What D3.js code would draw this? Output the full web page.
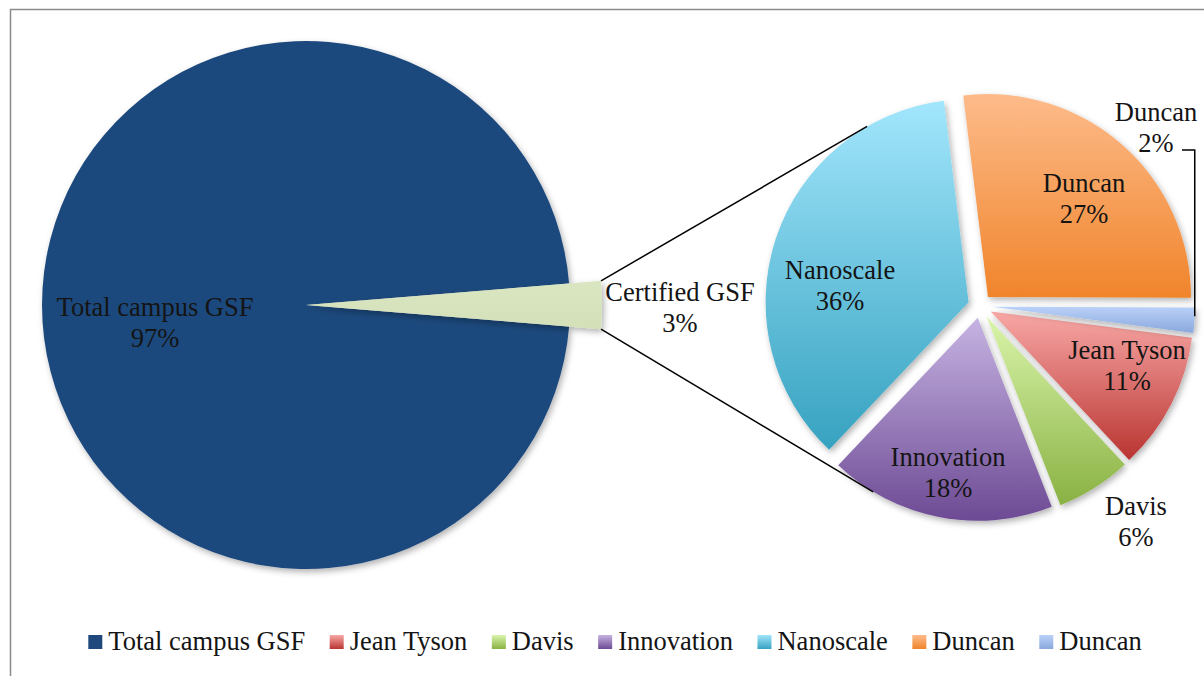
<!DOCTYPE html>
<html>
<head>
<meta charset="utf-8">
<script src="https://cdn.jsdelivr.net/npm/d3@7"></script>
<style>
  html, body { margin: 0; padding: 0; background: #fff; }
  svg text { font-family: "Liberation Serif", "Times New Roman", serif; fill: #141414; }
</style>
</head>
<body>
<svg id="chart" width="1204" height="676"></svg>
<script>
// first pie: campus total vs. certified
const mainNames = ["Total campus GSF", "Certified GSF"];
const mainValues = [97.4, 2.6];

// second pie: breakdown of certified GSF
const subNames = ["Jean Tyson", "Davis", "Innovation", "Nanoscale", "Duncan", "Duncan"];
const subValues = [11, 6, 18, 36, 27, 2];

const legendNames = ["Total campus GSF", "Jean Tyson", "Davis", "Innovation", "Nanoscale", "Duncan", "Duncan"];

// colours (top, bottom of the vertical gradient)
const subColors = [
  ["#f8a8a6", "#b93431"],
  ["#daf5ab", "#89b143"],
  ["#c6b3e2", "#6d4a94"],
  ["#a2e6fc", "#36a2c0"],
  ["#fdbb8a", "#f0842b"],
  ["#bad1f8", "#8aa8dd"]
];
const mainColors = [["#1f497d", "#1f497d"], ["#dae6c1", "#d3e0b8"]];

const svg = d3.select("#chart");
const defs = svg.append("defs");
const fontSize = "26.5px";

const shadow = defs.append("filter").attr("id", "shadow")
  .attr("x", "-20%").attr("y", "-20%").attr("width", "140%").attr("height", "140%");
shadow.append("feDropShadow")
  .attr("dx", 2).attr("dy", 3).attr("stdDeviation", 3)
  .attr("flood-color", "#000").attr("flood-opacity", 0.3);

function grad(id, c) {
  const g = defs.append("linearGradient").attr("id", id)
    .attr("x1", 0).attr("y1", 0).attr("x2", 0).attr("y2", 1);
  g.append("stop").attr("offset", "0%").attr("stop-color", c[0]);
  g.append("stop").attr("offset", "100%").attr("stop-color", c[1]);
  return `url(#${id})`;
}
const mainFill = mainColors.map((c, i) => grad("m" + i, c));
const subFill = subColors.map((c, i) => grad("s" + i, c));

// frame
svg.append("rect")
  .attr("x", 10.5).attr("y", 9.5).attr("width", 1230).attr("height", 700)
  .attr("fill", "none").attr("stroke", "#8a8a8a").attr("stroke-width", 1.5);

const rad = (deg) => (deg * Math.PI) / 180;
const lineGap = 31;

function twoLineLabel(g, x, y, name, pct) {
  const t = g.append("text").attr("text-anchor", "middle").attr("font-size", fontSize);
  t.append("tspan").attr("x", x).attr("y", y - lineGap / 2 + 9).text(name);
  t.append("tspan").attr("x", x).attr("y", y + lineGap / 2 + 9).text(pct + "%");
}

// ---- left pie ----
const L = { cx: 306, cy: 305, r: 264, rOther: 296 };
const mainTotal = d3.sum(mainValues);
const otherFrac = mainValues[1] / mainTotal;
const mainStart = rad(90 + otherFrac * 180);
const mainPie = d3.pie().sort(null).startAngle(mainStart).endAngle(mainStart + 2 * Math.PI)(mainValues);

const leftG = svg.append("g").attr("transform", `translate(${L.cx},${L.cy})`);
leftG.selectAll("path")
  .data(mainPie)
  .join("path")
  .attr("d", (d, i) => d3.arc().innerRadius(0).outerRadius(i === 0 ? L.r : L.rOther)(d))
  .attr("fill", (d, i) => mainFill[i])
  .attr("filter", "url(#shadow)");

const mainLabelPos = [[-151, 17.5], [374, 2.5]];
mainPie.forEach((d, i) => {
  twoLineLabel(leftG, mainLabelPos[i][0], mainLabelPos[i][1], mainNames[i],
    Math.round((d.value / mainTotal) * 100));
});

// ---- right pie ----
const R = { cx: 980, cy: 306, r: 203, explode: 12 };
const subStart = rad(97.4);
const subPie = d3.pie().sort(null).startAngle(subStart).endAngle(subStart + 2 * Math.PI)(subValues);
const subArc = d3.arc().innerRadius(0).outerRadius(R.r);
const offset = (d) => {
  const m = (d.startAngle + d.endAngle) / 2;
  return [R.explode * Math.sin(m), -R.explode * Math.cos(m)];
};

const rightG = svg.append("g").attr("transform", `translate(${R.cx},${R.cy})`);
rightG.selectAll("path")
  .data(subPie)
  .join("path")
  .attr("transform", (d) => `translate(${offset(d)})`)
  .attr("d", subArc)
  .attr("fill", (d, i) => subFill[i])
  .attr("filter", "url(#shadow)");

// connector lines from the certified slice to the second pie
const other = mainPie[1];
function leftCorner(a) {
  return [L.cx + L.rOther * Math.sin(a), L.cy - L.rOther * Math.cos(a)];
}
function rightPoint(slice, deg) {
  const o = offset(slice);
  const a = rad(deg);
  return [R.cx + o[0] + R.r * Math.sin(a), R.cy + o[1] - R.r * Math.cos(a)];
}
const connectors = [
  [leftCorner(other.startAngle), rightPoint(subPie[3], 330)],
  [leftCorner(other.endAngle), rightPoint(subPie[2], 211)]
];
svg.append("g").selectAll("line")
  .data(connectors)
  .join("line")
  .attr("x1", (d) => d[0][0]).attr("y1", (d) => d[0][1])
  .attr("x2", (d) => d[1][0]).attr("y2", (d) => d[1][1])
  .attr("stroke", "#000").attr("stroke-width", 1.5);

const subLabelPos = [[147, 59.5], [156, 215], [-32, 166.5], [-140, -20.5], [104, -107.5], [176, -178.5]];
subPie.forEach((d, i) => {
  twoLineLabel(rightG, subLabelPos[i][0], subLabelPos[i][1], subNames[i], d.value);
});

// leader line for the small Duncan slice
const small = subPie[5];
const sp = rightPoint(small, (small.startAngle * 180) / Math.PI + 2.5);
const leadY = subLabelPos[5][1] + lineGap / 2 + 7;
rightG.append("path")
  .attr("d", `M${subLabelPos[5][0] + 26},${leadY}H${sp[0] - R.cx}V${sp[1] - R.cy}`)
  .attr("fill", "none").attr("stroke", "#000").attr("stroke-width", 1.5);

// ---- legend ----
const legendFill = [mainFill[0]].concat(subFill);
const legend = svg.append("g");
const items = legend.selectAll("g").data(legendNames).join("g");
items.append("rect")
  .attr("width", 14).attr("height", 14).attr("y", -15)
  .attr("fill", (d, i) => legendFill[i]);
items.append("text")
  .attr("x", 20).attr("y", 0).attr("font-size", fontSize)
  .text((d) => d);

const gap = 24.5;
let lx = 0;
items.each(function () {
  const w = this.querySelector("text").getComputedTextLength() + 20;
  d3.select(this).attr("transform", `translate(${lx},0)`);
  lx += w + gap;
});
const legendWidth = lx - gap;
legend.attr("transform", `translate(${615 - legendWidth / 2},650)`);
</script>
</body>
</html>
